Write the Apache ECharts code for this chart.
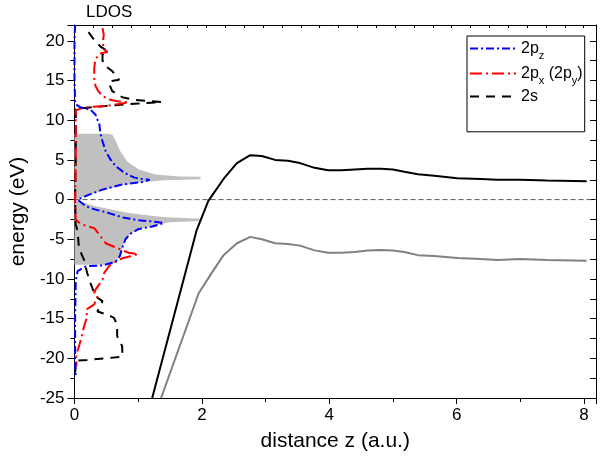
<!DOCTYPE html>
<html><head><meta charset="utf-8">
<script src="https://cdn.jsdelivr.net/npm/echarts@6/dist/echarts.min.js"></script>
<style>html,body{margin:0;padding:0;background:#fff}#c{width:600px;height:457px}</style>
</head><body><div id="c"></div><script>
// ---- data ----
var X_MAX = 8.1875;           // right edge of distance axis (a.u.)
var Y_MIN = -25, Y_MAX = 22;  // energy range (eV)
var xTickLabels = [0, 2, 4, 6, 8];
var yTickLabels = [-25, -20, -15, -10, -5, 0, 5, 10, 15, 20];

// upper band (black) and lower band (gray): distance z vs energy
var bandUpperZ = [1.22,1.92,2.10,2.34,2.55,2.76,2.94,3.15,3.35,3.54,3.77,3.98,4.19,4.40,4.60,4.81,5.00,5.18,5.39,5.65,6.01,6.38,6.64,7.00,7.42,8.04];
var bandUpperE = [-25,-3.8,-0.2,2.6,4.6,5.6,5.5,5.0,4.9,4.6,4.0,3.7,3.7,3.8,3.9,3.9,3.8,3.5,3.2,3.0,2.7,2.6,2.5,2.5,2.4,2.3];
var bandLowerZ = [1.36,1.95,2.15,2.34,2.55,2.76,2.94,3.15,3.35,3.54,3.77,3.98,4.19,4.40,4.60,4.81,5.00,5.18,5.39,5.65,6.01,6.38,6.64,7.00,7.42,8.04];
var bandLowerE = [-25,-11.8,-9.3,-7.0,-5.5,-4.7,-5.0,-5.5,-5.6,-5.8,-6.4,-6.7,-6.7,-6.6,-6.4,-6.35,-6.4,-6.6,-7.0,-7.1,-7.35,-7.5,-7.6,-7.5,-7.6,-7.7];

// LDOS (total, gray filled): value vs energy
var ldosTotV = [0,0.55,0.60,0.65,0.72,0.83,1.01,1.27,1.64,1.98,1.98,1.40,1.06,0.75,0.44,0.20,0,0.33,0.85,1.375,1.98,1.98,1.50,1.22,1.01,0.88,0.80,0.75,0.71,0.65,0.55,0];
var ldosTotE = [8.3,8.3,8.1,7.35,6.1,4.8,3.8,3.15,2.92,2.88,2.55,2.45,2.2,1.8,1.15,0.5,0,-0.84,-1.7,-2.2,-2.4,-2.7,-2.85,-3.3,-3.7,-4.3,-5.0,-6.1,-7.15,-7.8,-8.2,-8.2];

// LDOS 2pz
var pzV = [0.01,0,0,0.01,0.02,0.10,0.25,0.33,0.39,0.41,0.44,0.49,0.57,0.65,0.78,0.93,1.09,1.18,1.06,0.75,0.44,0.23,0.05,0.18,0.33,0.54,0.78,1.01,1.22,1.40,1.22,1.01,0.88,0.80,0.75,0.71,0.65,0.44,0.18,0.05,0.02,0.01,0.01,0.02];
var pzE = [22,20,15,12.5,12,11.6,11.35,10.7,9.5,8.2,7.35,6.1,5.0,4.2,3.4,2.8,2.55,2.5,2.2,1.9,1.26,0.63,0,-0.84,-1.26,-1.7,-2.3,-2.6,-2.75,-2.95,-3.4,-3.7,-4.3,-5.0,-6.1,-7.15,-7.8,-8.3,-8.4,-9.0,-10.3,-15,-20,-22.3];

// LDOS 2px (2py)
var pxV = [0.44,0.46,0.45,0.45,0.52,0.40,0.33,0.31,0.31,0.33,0.38,0.45,0.55,0.67,0.85,0.54,0.30,0.10,0.02,0.02,0.01,0.02,0.10,0.31,0.39,0.49,0.67,0.85,1.00,0.88,0.75,0.65,0.54,0.47,0.44,0.33,0.31,0.36,0.31,0.18,0.20,0.15,0.10,0.07,0.03,0.03];
var pxE = [21.6,20.8,20.2,19.0,18.6,18.4,17.7,16.6,15.3,14.3,13.6,13.0,12.6,12.4,12.25,11.85,11.7,11.5,11.2,5,0,-2.5,-3.1,-3.6,-4.4,-5.5,-6.1,-6.7,-6.85,-7.15,-7.4,-7.8,-8.4,-9.2,-10.1,-11.35,-11.8,-12.2,-13.2,-13.9,-14.7,-16.0,-17.65,-18.5,-19.5,-21];

// LDOS 2s
var sV = [0.22,0.31,0.42,0.52,0.44,0.44,0.46,0.59,0.68,0.70,0.54,0.56,0.59,0.75,0.95,1.37,1.00,0.64,0.30,0.02,0.02,0.01,0.02,0.05,0.07,0.15,0.20,0.25,0.33,0.44,0.36,0.52,0.62,0.67,0.67,0.75,0.75,0.49,0.20,0.02,0.01];
var sE = [21.1,20.1,19.2,18.7,18.3,17.6,17.0,16.2,15.4,15.1,14.9,14.3,13.7,12.9,12.55,12.3,12.1,11.9,11.65,11.4,5,0,-3.15,-4.0,-6.1,-7.6,-9.25,-10.5,-12.2,-12.8,-14.1,-14.5,-14.9,-15.8,-17.2,-18.5,-19.8,-20.0,-20.2,-20.3,-21.8];

var zeroLineZ = [0, X_MAX];
var zeroLineE = [0, 0];

function pairs(a, b) { return a.map(function (v, i) { return [v, b[i]]; }); }

var chart = echarts.init(document.getElementById('c'), null, {renderer: 'canvas'});
var black = '#000';
var font = 'Arial, "Liberation Sans", sans-serif';

var option = {
  animation: false,
  backgroundColor: '#fff',
  textStyle: {fontFamily: font},
  grid: {left: 72, right: 4, top: 25, bottom: 59, containLabel: false},
  graphic: [{
    type: 'text', left: 86, top: 4,
    style: {text: 'LDOS', fontSize: 17, fill: '#000', fontFamily: font}
  }],
  legend: {
    data: ['2pz', '2px (2py)', '2s'],
    orient: 'vertical', left: 467, top: 36,
    padding: [0, 2, 25, 2], itemGap: 0, itemWidth: 46, itemHeight: 26,
    borderColor: '#000', borderWidth: 1, backgroundColor: '#fff',
    selectedMode: false,
    itemStyle: {opacity: 0, color: 'rgba(0,0,0,0)', borderWidth: 0},
    formatter: function (name) {
      return {'2pz': '{n|2p}{s|z}', '2px (2py)': '{n|2p}{s|x}{n| (2p}{s|y}{n|)}', '2s': '{n|2s}'}[name];
    },
    textStyle: {
      fontFamily: font, color: '#000', fontSize: 16,
      rich: {
        n: {fontSize: 16, lineHeight: 20, verticalAlign: 'middle', color: '#000', fontFamily: font},
        s: {fontSize: 11, lineHeight: 12, padding: [14, 0, 0, 0], verticalAlign: 'middle', color: '#000', fontFamily: font}
      }
    }
  },
  xAxis: [
    {
      type: 'value', position: 'bottom', min: 0, max: X_MAX, interval: 2,
      axisLine: {show: true, onZero: false, lineStyle: {color: black, width: 1}},
      axisTick: {show: true, inside: false, length: 6, lineStyle: {color: black}},
      axisLabel: {fontSize: 17, color: black, margin: 9, fontFamily: font,
        formatter: function (v) { return xTickLabels.indexOf(v) >= 0 ? String(v) : ''; }},
      splitLine: {show: false},
      name: 'distance z (a.u.)', nameLocation: 'middle', nameGap: 33,
      nameTextStyle: {fontSize: 21, color: black, fontFamily: font}
    },
    {
      type: 'value', position: 'bottom', min: 0, max: X_MAX, interval: 1,
      axisLine: {show: false, onZero: false},
      axisTick: {show: true, inside: false, length: 4, lineStyle: {color: black}},
      axisLabel: {show: false}, splitLine: {show: false}
    },
    {
      type: 'value', position: 'top', min: 0, max: 27.65, interval: 1,
      axisLine: {show: true, onZero: false, lineStyle: {color: black, width: 1}},
      axisTick: {show: true, inside: true, length: 3, lineStyle: {color: black}},
      axisLabel: {show: false}, splitLine: {show: false}
    }
  ],
  yAxis: [
    {
      type: 'value', position: 'left', min: Y_MIN, max: Y_MAX, interval: 5,
      axisLine: {show: true, onZero: false, lineStyle: {color: black, width: 1}},
      axisTick: {show: true, inside: false, length: 7, lineStyle: {color: black}},
      axisLabel: {fontSize: 17, color: black, margin: 10, fontFamily: font,
        formatter: function (v) { return yTickLabels.indexOf(v) >= 0 ? String(v) : ''; }},
      splitLine: {show: false},
      name: 'energy (eV)', nameLocation: 'middle', nameGap: 44, nameRotate: 90,
      nameTextStyle: {fontSize: 21, color: black, fontFamily: font}
    },
    {
      type: 'value', position: 'left', min: Y_MIN, max: Y_MAX, interval: 2.5,
      axisLine: {show: false, onZero: false},
      axisTick: {show: true, inside: false, length: 4, lineStyle: {color: black}},
      axisLabel: {show: false}, splitLine: {show: false}
    },
    {
      type: 'value', position: 'right', min: Y_MIN, max: Y_MAX, interval: 2.5,
      axisLine: {show: true, onZero: false, lineStyle: {color: black, width: 1}},
      axisTick: {show: true, inside: true, length: 6, lineStyle: {color: black}},
      axisLabel: {show: false}, splitLine: {show: false}
    }
  ],
  series: [
    {
      name: 'LDOS total', type: 'custom', xAxisIndex: 0, yAxisIndex: 0, z: 1,
      data: [[ldosTotV[0], ldosTotE[0]]],
      renderItem: function (params, api) {
        var pts = ldosTotV.map(function (v, i) { return api.coord([v, ldosTotE[i]]); });
        return {type: 'polygon', shape: {points: pts}, style: {fill: '#c0c0c0', stroke: null}};
      }
    },
    {
      name: 'zero', type: 'line', data: pairs(zeroLineZ, zeroLineE), symbol: 'none', z: 2,
      lineStyle: {color: '#555', width: 1, type: [5, 3]}
    },
    {
      name: 'upper band', type: 'line', data: pairs(bandUpperZ, bandUpperE), symbol: 'none', z: 3,
      lineStyle: {color: '#000', width: 2}
    },
    {
      name: 'lower band', type: 'line', data: pairs(bandLowerZ, bandLowerE), symbol: 'none', z: 3,
      lineStyle: {color: '#808080', width: 2}
    },
    {
      name: '2s', type: 'line', data: pairs(sV, sE), symbol: 'none', z: 4, color: '#000',
      lineStyle: {color: '#000', width: 2, type: [9, 7]}
    },
    {
      name: '2px (2py)', type: 'line', data: pairs(pxV, pxE), symbol: 'none', z: 5, color: '#ff0000',
      lineStyle: {color: '#ff0000', width: 2, type: [12, 4, 2, 4]}
    },
    {
      name: '2pz', type: 'line', data: pairs(pzV, pzE), symbol: 'none', z: 6, color: '#0000ff',
      lineStyle: {color: '#0000ff', width: 2, type: [8, 3, 2, 3]}
    }
  ]
};
chart.setOption(option);
</script></body></html>
